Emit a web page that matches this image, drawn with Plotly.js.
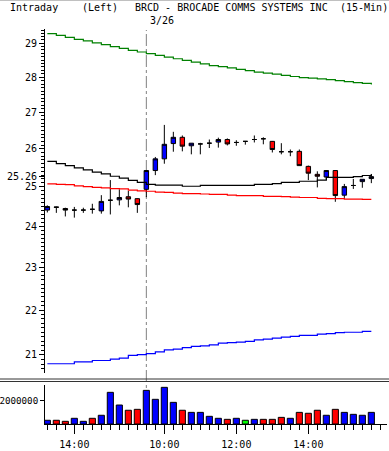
<!DOCTYPE html>
<html><head><meta charset="utf-8">
<script src="https://cdn.plot.ly/plotly-3.0.1.min.js"></script>
<style>html,body{margin:0;padding:0;background:#fff;}#chart{width:389px;height:451px;}</style>
</head><body><div id="chart"></div>
<script>
const dates = ['3/25','3/25','3/25','3/25','3/25','3/25','3/25','3/25','3/25','3/25','3/25',
  '3/26','3/26','3/26','3/26','3/26','3/26','3/26','3/26','3/26','3/26','3/26','3/26','3/26',
  '3/26','3/26','3/26','3/26','3/26','3/26','3/26','3/26','3/26','3/26','3/26','3/26','3/26'];
const times = ['13:15','13:30','13:45','14:00','14:15','14:30','14:45','15:00','15:15','15:30','15:45',
  '09:30','09:45','10:00','10:15','10:30','10:45','11:00','11:15','11:30','11:45','12:00','12:15','12:30',
  '12:45','13:00','13:15','13:30','13:45','14:00','14:15','14:30','14:45','15:00','15:15','15:30','15:45'];
const openP  = [24.40,24.48,24.44,24.40,24.40,24.42,24.38,24.65,24.66,24.74,24.69,
  24.93,25.42,25.73,26.14,26.31,26.08,26.13,26.15,26.18,26.25,26.17,26.20,26.25,
  26.27,26.20,25.92,25.92,25.93,25.53,25.32,25.25,25.42,24.78,25.03,25.13,25.21];
const highP  = [24.52,24.49,24.46,24.48,24.46,24.56,24.78,25.17,24.93,24.89,24.70,
  25.43,25.78,26.65,26.46,26.36,26.15,26.16,26.25,26.30,26.28,26.23,26.21,26.36,
  26.31,26.21,26.15,25.98,25.98,25.55,25.40,25.43,25.43,25.07,25.20,25.19,25.33];
const lowP   = [24.34,24.33,24.24,24.21,24.33,24.31,24.31,24.29,24.52,24.47,24.33,
  24.73,25.30,25.60,25.92,25.93,25.85,25.85,26.02,26.03,26.09,26.08,26.11,26.17,
  26.12,25.90,25.85,25.80,25.54,25.17,24.98,25.18,24.61,24.71,24.94,24.97,25.09];
const closeP = [24.49,24.47,24.40,24.40,24.40,24.42,24.62,24.65,24.72,24.68,24.54,
  25.42,25.73,26.12,26.31,26.07,26.15,26.13,26.15,26.25,26.13,26.17,26.20,26.25,
  26.27,25.98,25.92,25.92,25.55,25.35,25.27,25.42,24.77,25.00,25.03,25.19,25.26];
const upperBand = [29.29,29.24,29.18,29.12,29.07,29.01,28.96,28.90,28.85,28.79,28.74,
  28.69,28.64,28.59,28.54,28.49,28.44,28.39,28.34,28.31,28.27,28.23,28.19,28.15,
  28.12,28.09,28.05,28.02,27.99,27.97,27.95,27.93,27.90,27.87,27.84,27.82,27.79];
const lowerBand = [20.81,20.81,20.81,20.85,20.85,20.88,20.88,20.91,20.93,20.99,21.01,
  21.03,21.07,21.11,21.13,21.16,21.19,21.20,21.22,21.26,21.27,21.28,21.30,21.33,
  21.35,21.37,21.39,21.41,21.43,21.43,21.46,21.47,21.49,21.50,21.50,21.52,21.52];
const midLine = [25.66,25.60,25.55,25.49,25.44,25.38,25.33,25.27,25.22,25.16,25.11,
  25.06,25.04,25.04,25.04,25.01,25.01,25.03,25.03,25.03,25.03,25.03,25.03,25.06,
  25.06,25.08,25.11,25.11,25.14,25.14,25.17,25.24,25.24,25.24,25.26,25.29,25.32];
const redLine = [25.07,25.06,25.05,25.02,25.00,24.98,24.97,24.95,24.94,24.91,24.89,
  24.88,24.86,24.85,24.83,24.82,24.82,24.81,24.80,24.80,24.78,24.77,24.77,24.77,
  24.75,24.75,24.74,24.73,24.72,24.72,24.70,24.69,24.69,24.68,24.68,24.67,24.67];
const volume = [320000,320000,230000,490000,230000,490000,750000,2720000,1630000,1180000,1260000,
  2890000,2120000,3150000,1860000,1180000,1000000,1000000,660000,490000,400000,490000,320000,400000,
  400000,400000,570000,490000,1000000,920000,1180000,750000,1260000,1000000,830000,750000,1000000];
const volColor = ['blue','red','red','blue','blue','red','blue','blue','blue','red','red',
  'blue','blue','blue','blue','red','blue','blue','blue','blue','red','blue','lime','blue',
  'red','red','red','blue','red','red','red','blue','red','blue','blue','blue','blue'];
const lastPrice = 25.26;
const priceTicks = [21,22,23,24,25,26,27,28,29];
const volTicks = [2000000];
const xTickKeys = [['3/25','14:00'],['3/26','10:00'],['3/26','12:00'],['3/26','14:00']];
const newDay = '3/26';

const xs = times.map((t, i) => i);
const xTickVals = xTickKeys.map(k => times.findIndex((t, i) => dates[i] === k[0] && t === k[1]));
const xTickText = xTickKeys.map(k => k[1]);
const dayStart = dates.indexOf(newDay);
const labelIdx = xTickVals[1];

const minorVals = [];
for (let k = 207; k <= 294; k++) { if (k % 10 !== 0) minorVals.push(k / 10); }

const FONT = 'DejaVu Sans Mono, monospace';
const TOP = 29, BOT = 27, H = 451, PH = H - TOP - BOT;
const py = p => (H - BOT - p) / PH;   // pixel y -> paper y
const L = 45, R = 2, PW = 389 - L - R;
const px = p => (p - L) / PW;         // pixel x -> paper x

const lineTr = (vals, color) => ({
  type: 'scatter', mode: 'lines', x: xs, y: vals, xaxis: 'x', yaxis: 'y',
  line: {color: color, width: 1.2, shape: 'hv'}, hoverinfo: 'skip', showlegend: false
});

const data = [
  lineTr(upperBand, '#008000'),
  lineTr(lowerBand, '#0000ff'),
  lineTr(midLine, '#000000'),
  lineTr(redLine, '#ff0000'),
  {
    type: 'candlestick', x: xs, open: openP, high: highP, low: lowP, close: closeP,
    xaxis: 'x', yaxis: 'y', showlegend: false,
    increasing: {line: {color: '#000', width: 1}, fillcolor: '#0000ff'},
    decreasing: {line: {color: '#000', width: 1}, fillcolor: '#ff0000'}
  },
  {
    type: 'bar', x: xs, y: volume, xaxis: 'x', yaxis: 'y2', width: 0.68,
    marker: {color: volColor, line: {color: '#000', width: 1}}, showlegend: false
  }
];

const layout = {
  width: 389, height: 451,
  margin: {l: L, r: R, t: TOP, b: BOT, pad: 0},
  paper_bgcolor: '#fff', plot_bgcolor: 'rgba(0,0,0,0)',
  font: {family: FONT, size: 10, color: '#000'},
  showlegend: false,
  xaxis: {
    range: [-0.26, 37.74], domain: [0, 1], anchor: 'y2',
    tickmode: 'array', tickvals: xTickVals, ticktext: xTickText,
    ticks: 'outside', ticklen: 9, tickwidth: 1, tickcolor: '#000', ticklabelstandoff: 2,
    minor: {tick0: 0, dtick: 1, ticks: 'outside', ticklen: 5, tickwidth: 1, tickcolor: '#000', showgrid: false},
    showline: true, linecolor: '#000', linewidth: 1, showgrid: false, zeroline: false,
    rangeslider: {visible: false}, fixedrange: true,
    tickfont: {family: FONT, size: 10, color: '#000'}
  },
  yaxis: {
    type: 'log', domain: [py(373), 1], range: [1.31412, 1.46883], anchor: 'x',
    tickmode: 'array', tickvals: priceTicks.concat([lastPrice]),
    ticktext: priceTicks.map(String).concat([lastPrice.toFixed(2)]),
    ticks: 'outside', ticklen: 5, tickwidth: 1, tickcolor: '#000',
    minor: {tickmode: 'array', tickvals: minorVals, ticks: 'outside', ticklen: 3, tickwidth: 1, tickcolor: '#000', showgrid: false},
    showline: true, linecolor: '#000', linewidth: 1, showgrid: false, zeroline: false,
    tickfont: {family: FONT, size: 10, color: '#000'}
  },
  yaxis2: {
    domain: [0, py(385)], range: [0, 3350000], anchor: 'x',
    tickmode: 'array', tickvals: volTicks, ticktext: volTicks.map(String),
    ticks: 'outside', ticklen: 4, tickwidth: 1, tickcolor: '#000',
    showline: true, linecolor: '#000', linewidth: 1, showgrid: false, zeroline: false,
    tickfont: {family: FONT, size: 9.2, color: '#000'}
  },
  shapes: [
    {type: 'line', xref: 'x', yref: 'paper', x0: dayStart, x1: dayStart, y0: 0, y1: py(30),
     line: {color: '#808080', width: 1, dash: '12px,3px,3px,3px'}, layer: 'below'},
    {type: 'line', xref: 'paper', yref: 'paper', x0: px(0), x1: px(389), y0: py(379), y1: py(379),
     line: {color: '#333', width: 1}},
    {type: 'line', xref: 'paper', yref: 'paper', x0: px(0), x1: px(389), y0: py(381.5), y1: py(381.5),
     line: {color: '#333', width: 1}},
    {type: 'line', xref: 'paper', yref: 'paper', x0: px(0), x1: px(389), y0: py(0.5), y1: py(0.5),
     line: {color: '#c0c0c0', width: 1}}
  ],
  annotations: [
    {text: 'Intraday', x: px(8), y: py(8)},
    {text: '(Left)', x: px(80), y: py(8)},
    {text: 'BRCD - BROCADE COMMS SYSTEMS INC', x: px(133), y: py(8)},
    {text: '(15-Min)', x: px(338), y: py(8)}
  ].map(a => Object.assign({xref: 'paper', yref: 'paper', xanchor: 'left', yanchor: 'middle',
      showarrow: false, font: {family: FONT, size: 10, color: '#000'}}, a)).concat([
    {text: newDay, xref: 'x', yref: 'paper', x: labelIdx - 0.25, y: py(20), xanchor: 'center', yanchor: 'middle',
     showarrow: false, font: {family: FONT, size: 10, color: '#000'}}
  ])
};

Plotly.newPlot('chart', data, layout, {staticPlot: true, displayModeBar: false});
</script>
</body></html>
